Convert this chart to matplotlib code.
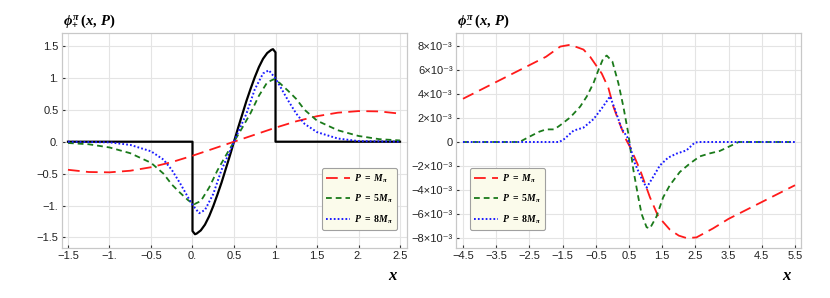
import matplotlib
matplotlib.use("Agg")
import matplotlib.pyplot as plt

plt.rcParams["font.family"] = ["Liberation Sans", "DejaVu Sans"]
plt.rcParams["mathtext.fontset"] = "custom"
plt.rcParams["mathtext.it"] = "Liberation Serif:italic:bold"
plt.rcParams["mathtext.rm"] = "Liberation Serif:bold"
plt.rcParams["mathtext.bf"] = "Liberation Serif:bold"

# ---- left panel: phi_+ ----
x_black = [-1.5, 0, 0, 0.03, 0.05, 0.1, 0.15, 0.2, 0.25, 0.3, 0.35, 0.4, 0.45, 0.5,
           0.55, 0.6, 0.65, 0.7, 0.75, 0.8, 0.85, 0.9, 0.95, 0.97, 1.0, 1.0, 2.5]
y_black = [0, 0, -1.40, -1.45, -1.44, -1.39, -1.30, -1.17, -1.01, -0.83, -0.64, -0.43, -0.22, 0,
           0.22, 0.43, 0.64, 0.83, 1.01, 1.17, 1.30, 1.39, 1.44, 1.45, 1.40, 0, 0]

x_red_l = [-1.5, -1.25, -1.0, -0.75, -0.5, -0.25, 0, 0.25, 0.5, 0.75, 1.0, 1.25, 1.5, 1.75, 2.0, 2.25, 2.5]
y_red_l = [-0.44, -0.475, -0.48, -0.455, -0.40, -0.32, -0.22, -0.11, 0, 0.11, 0.22, 0.32, 0.40, 0.455, 0.48, 0.475, 0.44]

x_green_l = [-1.5, -1.25, -1.0, -0.75, -0.5, -0.35, -0.25, -0.15, -0.05, 0.02, 0.1, 0.2, 0.3, 0.4, 0.5,
             0.6, 0.7, 0.8, 0.9, 0.98, 1.05, 1.15, 1.25, 1.35, 1.5, 1.75, 2.0, 2.25, 2.5]
y_green_l = [-0.02, -0.04, -0.09, -0.18, -0.33, -0.50, -0.67, -0.80, -0.92, -0.98, -0.93, -0.72, -0.45, -0.22, 0,
             0.22, 0.45, 0.72, 0.93, 0.98, 0.92, 0.80, 0.67, 0.50, 0.33, 0.18, 0.09, 0.04, 0.02]

x_blue_l = [-1.5, -1.25, -1.0, -0.75, -0.5, -0.35, -0.25, -0.15, -0.05, 0, 0.08, 0.15, 0.25, 0.35, 0.45, 0.5,
            0.55, 0.65, 0.75, 0.85, 0.92, 1.0, 1.05, 1.15, 1.25, 1.35, 1.5, 1.75, 2.0, 2.25, 2.5]
y_blue_l = [0, -0.005, -0.01, -0.05, -0.15, -0.28, -0.44, -0.65, -0.88, -0.99, -1.12, -1.07, -0.82, -0.44, -0.15, 0,
            0.15, 0.44, 0.82, 1.07, 1.12, 0.99, 0.88, 0.65, 0.44, 0.28, 0.15, 0.05, 0.01, 0.005, 0]

# ---- right panel: phi_- (values in units of 1e-3) ----
x_red_r = [-4.5, -3.5, -2.5, -2.0, -1.57, -1.27, -0.87, -0.67, -0.47, -0.32, -0.12, 0.03, 0.18, 0.42,
           0.53, 0.83, 1.13, 1.38, 1.73, 2.0, 2.23, 2.53, 3.03, 3.5, 4.5, 5.5]
y_red_r = [3.6, 5.0, 6.4, 7.1, 7.95, 8.1, 7.7, 7.1, 6.3, 5.7, 4.5, 2.95, 1.8, 0.15,
           -0.4, -2.3, -4.6, -6.2, -7.3, -7.8, -8.0, -7.95, -7.2, -6.4, -5.0, -3.6]

x_green_r = [-4.5, -2.8, -2.5, -2.2, -2.0, -1.75, -1.57, -1.27, -0.97, -0.77, -0.57, -0.42, -0.27, -0.17,
             0.0, 0.18, 0.33, 0.48, 0.63, 0.78, 0.88, 1.03, 1.13, 1.33, 1.53, 1.73, 2.03, 2.33, 2.63,
             2.93, 3.23, 3.5, 3.8, 5.5]
y_green_r = [0, 0, 0.44, 0.86, 1.05, 1.05, 1.4, 2.05, 2.95, 3.8, 4.9, 6.0, 7.0, 7.2,
             6.7, 4.9, 2.95, 0.7, -2.3, -4.6, -6.0, -7.1, -7.2, -6.2, -4.6, -3.6, -2.5, -1.8, -1.2,
             -0.95, -0.75, -0.4, 0, 0]

x_blue_r = [-4.5, -1.6, -1.45, -1.17, -0.87, -0.57, -0.32, -0.07, 0.08, 0.28, 0.45, 0.68, 0.88, 1.03,
            1.23, 1.43, 1.68, 1.93, 2.23, 2.48, 2.6, 5.5]
y_blue_r = [0, 0, 0.25, 0.95, 1.2, 1.9, 2.8, 3.8, 2.7, 1.1, 0.4, -1.8, -3.05, -3.8,
            -2.9, -1.95, -1.3, -0.97, -0.7, -0.05, 0, 0]

labels = [r"$P\ =\ M_{\pi}$", r"$P\ =\ 5M_{\pi}$", r"$P\ =\ 8M_{\pi}$"]

xt_left = [-1.5, -1.0, -0.5, 0.0, 0.5, 1.0, 1.5, 2.0, 2.5]
xt_left_lab = ["\u22121.5", "\u22121.", "\u22120.5", "0.", "0.5", "1.", "1.5", "2.", "2.5"]
yt_left = [-1.5, -1.0, -0.5, 0.0, 0.5, 1.0, 1.5]
yt_left_lab = ["\u22121.5", "\u22121.", "\u22120.5", "0.", "0.5", "1.", "1.5"]
xt_right = [-4.5, -3.5, -2.5, -1.5, -0.5, 0.5, 1.5, 2.5, 3.5, 4.5, 5.5]
xt_right_lab = ["\u22124.5", "\u22123.5", "\u22122.5", "\u22121.5", "\u22120.5",
                "0.5", "1.5", "2.5", "3.5", "4.5", "5.5"]
yt_right = [-8, -6, -4, -2, 0, 2, 4, 6, 8]
yt_right_lab = ["\u22128\u00d710\u207b\u00b3", "\u22126\u00d710\u207b\u00b3", "\u22124\u00d710\u207b\u00b3",
                "\u22122\u00d710\u207b\u00b3", "0", "2\u00d710\u207b\u00b3", "4\u00d710\u207b\u00b3",
                "6\u00d710\u207b\u00b3", "8\u00d710\u207b\u00b3"]

red_style = dict(color="#ff1a1a", lw=1.3, dashes=(6.5, 3.5))
green_style = dict(color="#1a7a1a", lw=1.3, dashes=(3.2, 2.2))
blue_style = dict(color="#1a1aff", lw=1.4, dashes=(0.9, 1.1))

fig = plt.figure(figsize=(8.3, 2.98), dpi=100)
ax1 = fig.add_axes([62 / 830, 1 - 248 / 298, 345 / 830, 215 / 298])
ax2 = fig.add_axes([456 / 830, 1 - 248 / 298, 345 / 830, 215 / 298])

ax1.plot(x_black, y_black, color="black", lw=1.6)
ax1.plot(x_red_l, y_red_l, label=labels[0], **red_style)
ax1.plot(x_green_l, y_green_l, label=labels[1], **green_style)
ax1.plot(x_blue_l, y_blue_l, label=labels[2], **blue_style)
ax1.set_xlim(-1.572, 2.584)
ax1.set_ylim(-1.666, 1.704)
ax1.set_xticks(xt_left, xt_left_lab)
ax1.set_yticks(yt_left, yt_left_lab)

ax2.plot(x_red_r, y_red_r, label=labels[0], **red_style)
ax2.plot(x_green_r, y_green_r, label=labels[1], **green_style)
ax2.plot(x_blue_r, y_blue_r, label=labels[2], **blue_style)
ax2.set_xlim(-4.71, 5.68)
ax2.set_ylim(-8.83, 9.08)
ax2.set_xticks(xt_right, xt_right_lab)
ax2.set_yticks(yt_right, yt_right_lab)

titles = [r"$\phi^{\pi}_{+}\,(x,\,P)$", r"$\phi^{\pi}_{-}\,(x,\,P)$"]
leg_pos = [(0.754, 0.084), (0.041, 0.084)]
for ax, t, lp in zip([ax1, ax2], titles, leg_pos):
    ax.grid(True, color="#e4e4e4", lw=0.8)
    ax.set_axisbelow(True)
    for s in ax.spines.values():
        s.set_color("#c8c8c8")
        s.set_linewidth(0.9)
    ax.tick_params(direction="in", length=2.5, width=0.8, color="#333333",
                   labelsize=8, labelcolor="#222222", pad=2.5)
    ax.text(0.003, 1.04, t, transform=ax.transAxes, fontsize=10.5, ha="left", va="baseline")
    ax.text(0.96, -0.15, r"$x$", transform=ax.transAxes, fontsize=12, ha="center", va="baseline")
    leg = ax.legend(loc="lower left", bbox_to_anchor=lp, borderaxespad=0, fontsize=7,
                    fancybox=True, framealpha=1, facecolor="#fbfbeb", edgecolor="#a0a0a0",
                    handlelength=2.5, labelspacing=0.85, borderpad=0.4, handletextpad=0.35)
    leg.get_frame().set_linewidth(0.8)

fig.savefig("out.png", dpi=100)
